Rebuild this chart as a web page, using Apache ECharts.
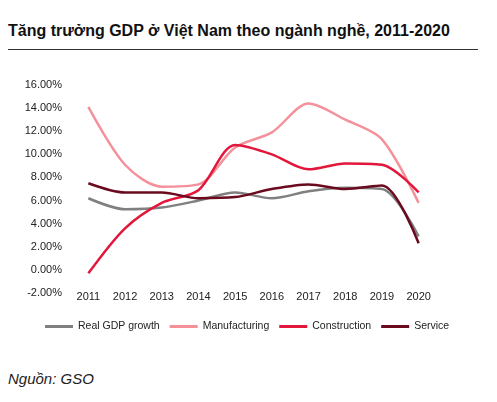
<!DOCTYPE html>
<html><head><meta charset="utf-8">
<script src="https://cdn.jsdelivr.net/npm/echarts@6/dist/echarts.min.js"></script>
<style>
body{margin:0;background:#fff;font-family:"Liberation Sans Narrow","Liberation Sans",sans-serif}
#title{position:absolute;left:8px;top:22px;font-weight:bold;font-size:16px;color:#111}
#rule{position:absolute;left:8px;top:49px;width:470px;border-top:1px solid #333}
#src{position:absolute;left:8px;top:370px;font-style:italic;font-size:15px;color:#222}
#chart{position:absolute;left:0;top:55px;width:497px;height:290px}
</style></head><body>
<div id="title">Tăng trưởng GDP ở Việt Nam theo ngành nghề, 2011-2020</div>
<div id="rule"></div>
<div id="chart"></div>
<div id="src">Nguồn: GSO</div>
<script>
const years = ['2011','2012','2013','2014','2015','2016','2017','2018','2019','2020'];
const realGdp = [6.2, 5.25, 5.4, 6.0, 6.7, 6.2, 6.8, 7.1, 7.0, 2.9];
const manufacturing = [14.1, 9.1, 7.2, 7.4, 10.6, 11.9, 14.4, 13.0, 11.3, 5.8];
const construction = [-0.3, 3.6, 5.8, 6.9, 10.8, 10.0, 8.7, 9.2, 9.1, 6.7];
const service = [7.5, 6.7, 6.7, 6.2, 6.3, 7.0, 7.4, 7.0, 7.3, 2.3];

const chart = echarts.init(document.getElementById('chart'));
const mk = (name, data, color) => ({
  name, type: 'line', data, smooth: 0.3, symbol: 'none',
  lineStyle: { color, width: 2.5 }, itemStyle: { color }
});
chart.setOption({
  animation: false,
  textStyle: { fontFamily: 'Liberation Sans Narrow, Liberation Sans, sans-serif' },
  grid: { left: 70, right: 60, top: 30, bottom: 52 },
  legend: {
    bottom: 8, left: 40, itemWidth: 28, itemHeight: 3, itemGap: 10,
    icon: 'rect', textStyle: { fontSize: 10.5, color: '#222' }
  },
  xAxis: {
    type: 'category', data: years, boundaryGap: true,
    axisLine: { show: false }, axisTick: { show: false },
    axisLabel: { margin: -2, fontSize: 11, color: '#222' }
  },
  yAxis: {
    type: 'value', min: -2, max: 16, interval: 2,
    splitLine: { show: false }, axisLine: { show: false }, axisTick: { show: false },
    axisLabel: { formatter: v => v.toFixed(2) + '%', fontSize: 11, color: '#222' }
  },
  series: [
    mk('Real GDP growth', realGdp, '#808080'),
    mk('Manufacturing', manufacturing, '#f4919b'),
    mk('Construction', construction, '#e3173b'),
    mk('Service', service, '#6b0a1e')
  ]
});
</script>
</body></html>
